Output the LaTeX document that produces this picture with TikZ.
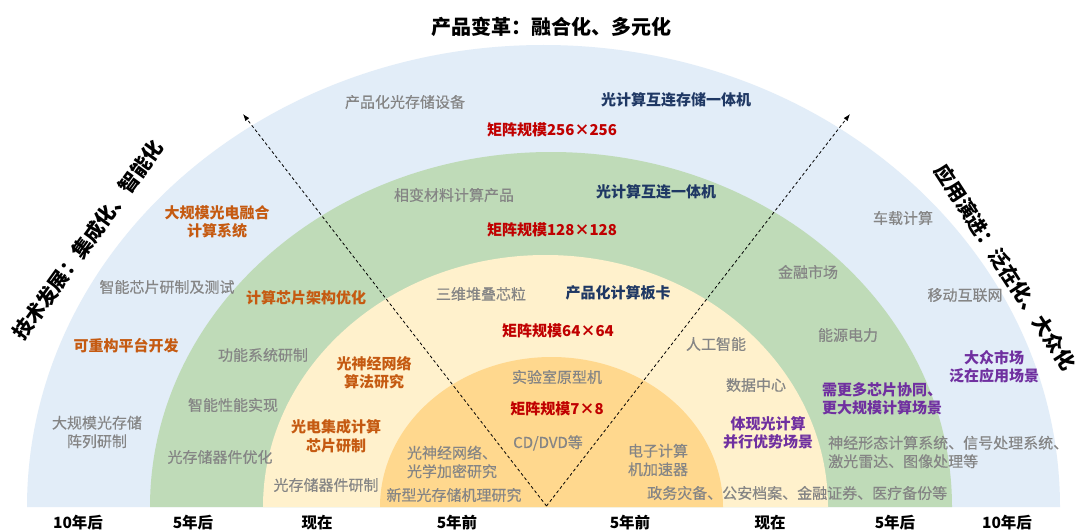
\documentclass[tikz,border=0pt]{standalone}
\usepackage{fontspec}
\setmainfont{Noto Sans CJK SC}
\newfontfamily\grayfont{Noto Sans CJK SC}[FakeBold=0.45]
\usetikzlibrary{arrows.meta}
\definecolor{ringblue}{HTML}{E2EDF8}
\definecolor{ringgreen}{HTML}{BFDBB8}
\definecolor{ringyellow}{HTML}{FFF1CC}
\definecolor{ringorange}{HTML}{FFD88E}
\definecolor{tgray}{HTML}{858585}
\definecolor{tnavy}{HTML}{1F3864}
\definecolor{tred}{HTML}{C00000}
\definecolor{torange}{HTML}{C55A11}
\definecolor{tpurple}{HTML}{7030A0}
\begin{document}
\begin{tikzpicture}[x=1pt,y=-1pt,
  lbl/.style={font=\fontsize{15}{18.5}\selectfont, align=center, inner sep=0pt},
  gtxt/.style={lbl, text=tgray, font=\fontsize{15}{18.5}\selectfont\grayfont},
  ntxt/.style={lbl, text=tnavy, font=\fontsize{15}{18.5}\selectfont\bfseries},
  rtxt/.style={lbl, text=tred, font=\fontsize{15}{18.5}\selectfont\bfseries},
  otxt/.style={lbl, text=torange, font=\fontsize{15}{18.5}\selectfont\bfseries},
  ptxt/.style={lbl, text=tpurple, font=\fontsize{15}{18.5}\selectfont\bfseries},
  axtxt/.style={inner sep=0pt, text=black, font=\fontsize{15.5}{18}\selectfont\bfseries},
  ttl/.style={inner sep=0pt, text=black, font=\fontsize{20}{24}\selectfont\bfseries},
  dasharrow/.style={draw=black, line width=0.8pt, dash pattern=on 3pt off 2.5pt, -{Latex[length=7pt,width=5pt]}}
]
\useasboundingbox (0,0) rectangle (1081,532);
\fill[white] (0,0) rectangle (1081,532);

% rings
\fill[ringblue] (27,507) arc[start angle=180,end angle=0,x radius=516.5pt,y radius=462pt] -- cycle;
\fill[ringgreen] (150,507) arc[start angle=180,end angle=0,x radius=401pt,y radius=355pt] -- cycle;
\fill[ringyellow] (263,507) arc[start angle=180,end angle=0,x radius=282.5pt,y radius=252pt] -- cycle;
\fill[ringorange] (380,507) arc[start angle=180,end angle=0,x radius=171.5pt,y radius=150pt] -- cycle;

% dashed arrows
\coordinate (vtx) at (546.5,506);
\coordinate (tipL) at (243,114);
\coordinate (tipR) at (850,114);
\draw[dasharrow] (vtx) -- (tipL);
\draw[dasharrow] (vtx) -- (tipR);

% titles
\node[ttl] (title) at (551,27) {产品变革：融合化、多元化};
\node[ttl, rotate=54] (ltitle) at (88,240) {技术发展：集成化、智能化};
\node[ttl, rotate=-57] (rtitle) at (1005,267) {应用演进：泛在化、大众化};

% outer (blue) ring
\node[gtxt] (b1) at (405,102) {产品化光存储设备};
\node[ntxt] (b2) at (676,100) {光计算互连存储一体机};
\node[rtxt] (b3) at (552,130) {矩阵规模256×256};
\node[otxt] (b4) at (217,222) {大规模光电融合\\计算系统};
\node[gtxt] (b5) at (167,287) {智能芯片研制及测试};
\node[otxt] (b6) at (126,346) {可重构平台开发};
\node[gtxt] (b7) at (97,432) {大规模光存储\\阵列研制};
\node[gtxt] (b8) at (903,218) {车载计算};
\node[gtxt] (b9) at (965,295) {移动互联网};
\node[ptxt] (b10) at (994,367) {大众市场\\泛在应用场景};

% green ring
\node[gtxt] (g1) at (454,195) {相变材料计算产品};
\node[ntxt] (g2) at (656,192) {光计算互连一体机};
\node[rtxt] (g3) at (552,230) {矩阵规模128×128};
\node[otxt] (g4) at (306,298) {计算芯片架构优化};
\node[gtxt] (g5) at (263,355) {功能系统研制};
\node[gtxt] (g6) at (233,405) {智能性能实现};
\node[gtxt] (g7) at (220,457) {光存储器件优化};
\node[gtxt] (g8) at (808,272) {金融市场};
\node[gtxt] (g9) at (848,335) {能源电力};
\node[ptxt] (g10) at (882,399) {需更多芯片协同、\\更大规模计算场景};
\node[gtxt, anchor=west, align=left] (g11) at (828,452) {神经形态计算系统、信号处理系统、\\激光雷达、图像处理等};

% yellow ring
\node[gtxt] (y1) at (481,294) {三维堆叠芯粒};
\node[ntxt] (y2) at (618,293) {产品化计算板卡};
\node[rtxt] (y3) at (558,331) {矩阵规模64×64};
\node[otxt] (y4) at (374,373) {光神经网络\\算法研究};
\node[otxt] (y5) at (336,436) {光电集成计算\\芯片研制};
\node[gtxt] (y6) at (326,485) {光存储器件研制};
\node[gtxt] (y7) at (716,344) {人工智能};
\node[gtxt] (y8) at (756,385) {数据中心};
\node[ptxt] (y9) at (768,433) {体现光计算\\并行优势场景};

% orange core
\node[gtxt] (o1) at (557,377) {实验室原型机};
\node[rtxt] (o2) at (557,409) {矩阵规模7×8};
\node[gtxt] (o3) at (548,443) {CD/DVD等};
\node[gtxt, align=left] (o4) at (452,462) {光神经网络、\\光学加密研究};
\node[gtxt] (o5) at (454,495) {新型光存储机理研究};
\node[gtxt] (o6) at (658,460) {电子计算\\机加速器};
\node[gtxt, anchor=west] (o7) at (647,493) {政务灾备、公安档案、金融证券、医疗备份等};

% axis labels
\node[axtxt] (a1) at (78,523) {10年后};
\node[axtxt] (a2) at (193,523) {5年后};
\node[axtxt] (a3) at (317,523) {现在};
\node[axtxt] (a4) at (457,523) {5年前};
\node[axtxt] (a5) at (630,523) {5年前};
\node[axtxt] (a6) at (770,523) {现在};
\node[axtxt] (a7) at (895,523) {5年后};
\node[axtxt] (a8) at (1007,523) {10年后};
\end{tikzpicture}
\end{document}
